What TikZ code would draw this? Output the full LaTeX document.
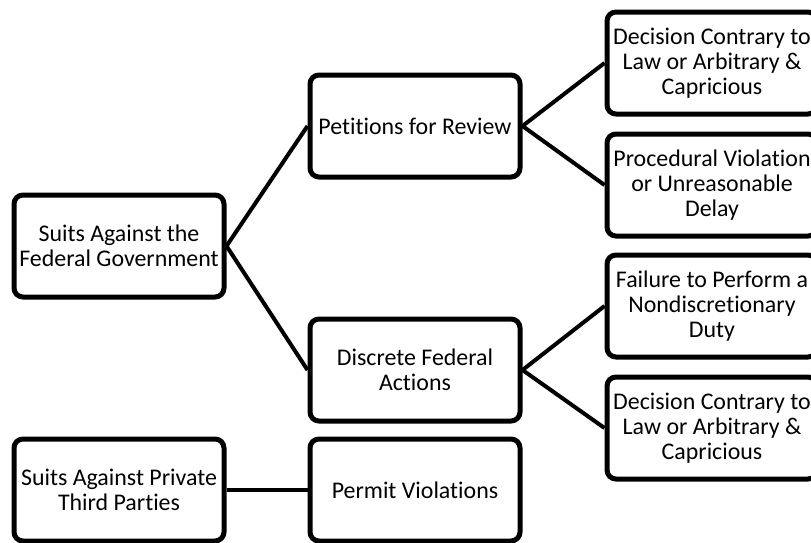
\documentclass[tikz,border=0pt]{standalone}
\usepackage{fontspec}
\setmainfont{Carlito}[RawFeature=-liga]
\usepackage{tikz}

\tikzset{
  box/.style={draw, line width=5pt, rounded corners=9pt, fill=white,
    minimum width=210pt, minimum height=102pt, inner sep=0pt,
    align=center, font=\fontsize{23.9}{25}\selectfont},
  link/.style={line width=4pt}
}

\begin{document}
\begin{tikzpicture}[x=1pt, y=-1pt]

% Frame
\useasboundingbox (0,0) rectangle (811,542);
\clip (0,0) rectangle (811,542);

% Left column
\node[box] (federal) at (119,246) {Suits Against the\\Federal Government};
\node[box] (private) at (119,490) {Suits Against Private\\Third Parties};

% Middle column
\node[box] (petitions) at (415,126) {Petitions for Review};
\node[box] (discrete) at (415,370) {Discrete Federal\\Actions};
\node[box] (permit) at (415,490) {Permit Violations};

% Right column
\node[box] (contrary1) at (712,63) {Decision Contrary to\\Law or Arbitrary \&\\Capricious};
\node[box] (procedural) at (712,185) {Procedural Violation\\or Unreasonable\\Delay};
\node[box] (failure) at (712,306) {Failure to Perform a\\Nondiscretionary\\Duty};
\node[box] (contrary2) at (712,428) {Decision Contrary to\\Law or Arbitrary \&\\Capricious};

% Links
\draw[link] (federal.east) -- (petitions.west);
\draw[link] (federal.east) -- (discrete.west);
\draw[link] (petitions.east) -- (contrary1.west);
\draw[link] (petitions.east) -- (procedural.west);
\draw[link] (discrete.east) -- (failure.west);
\draw[link] (discrete.east) -- (contrary2.west);
\draw[link] (private.east) -- (permit.west);

\end{tikzpicture}
\end{document}
